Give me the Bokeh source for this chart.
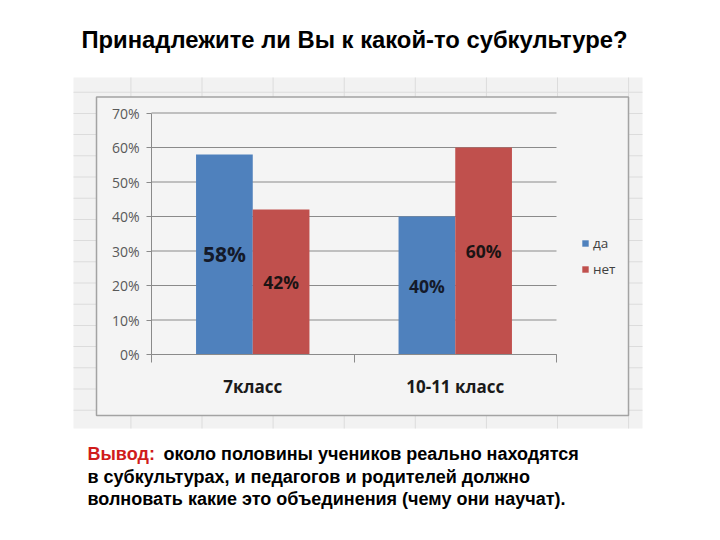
from bokeh.plotting import figure
from bokeh.models import (ColumnDataSource, Range1d, FixedTicker, PrintfTickFormatter,
                          LabelSet, Label, Legend, LegendItem, BoxAnnotation)
from bokeh.transform import dodge
from bokeh.core.properties import value, field
from bokeh.embed import file_html
from bokeh.resources import INLINE

# ---------------- data ----------------
title_text = "Принадлежите ли Вы к какой-то субкультуре?"
categories = ["7класс", "10-11 класс"]
series_names = ["да", "нет"]
da = [58, 40]
net = [42, 60]
y_ticks = [0, 10, 20, 30, 40, 50, 60, 70]
conclusion_head = "Вывод:"
conclusion_lines = [
    "около половины учеников реально находятся",
    "в субкультурах, и педагогов и родителей должно",
    "волновать какие это объединения (чему они научат).",
]

# ---------------- styles / layout ----------------
W, H = 720, 540
BLUE = "#4f81bd"
RED = "#c0504d"
AXIS = "#8a8a8a"
EXCEL_FONT = "Open Sans"
SLIDE_FONT = "Liberation Sans"
da_label_sizes = ["21px", "17.5px"]
net_label_sizes = ["17.5px", "17.5px"]
BAR_W = 0.28
PLOT_LEFT, PLOT_RIGHT = 151.0, 556.0     # canvas px of the plot area
PLOT_TOP, PLOT_BOTTOM = 112.5, 354.0
YMAX = 70

ncat = len(categories)
px_x = (PLOT_RIGHT - PLOT_LEFT) / ncat
px_y = (PLOT_BOTTOM - PLOT_TOP) / YMAX
x0 = -PLOT_LEFT / px_x
y0 = -(H - PLOT_BOTTOM) / px_y

pos = [i + 0.5 for i in range(ncat)]
src = ColumnDataSource(dict(
    x=pos,
    da=da, net=net,
    da_mid=[v / 2 for v in da], net_mid=[v / 2 for v in net],
    da_lbl=[f"{v}%" for v in da], net_lbl=[f"{v}%" for v in net],
    da_size=da_label_sizes, net_size=net_label_sizes,
))

p = figure(width=W, height=H, output_backend="svg", toolbar_location=None,
           x_range=Range1d(x0, x0 + W / px_x), y_range=Range1d(y0, y0 + H / px_y),
           min_border_left=0, min_border_right=0, min_border_top=0, min_border_bottom=0)
p.outline_line_color = None
p.background_fill_color = "white"
p.border_fill_color = "white"
p.grid.visible = False


def cbox(l, r, t, b, **kw):
    return BoxAnnotation(left=l, right=r, top=t, bottom=b,
                         left_units="canvas", right_units="canvas",
                         top_units="canvas", bottom_units="canvas",
                         level="image", **kw)


# ---- spreadsheet-like backdrop and chart box ----
decor = [cbox(73, 642, 77, 428, fill_color="#f2f2f2", fill_alpha=1, line_color=None)]
for k in range(16):
    yy = 91.7 + 21.2 * k
    decor.append(cbox(73, 642, yy - 0.5, yy + 0.5, fill_color="#dcdcdc", fill_alpha=1, line_color=None))
for k in range(8):
    xx = 130.4 + 71.1 * k
    decor.append(cbox(xx - 0.5, xx + 0.5, 77, 428, fill_color="#dcdcdc", fill_alpha=1, line_color=None))
decor.append(cbox(96, 628, 96.5, 415, fill_color="#f4f4f4", fill_alpha=1,
                  line_color="#a3a3a3", line_width=1.5, line_alpha=1))
for d in decor:
    p.add_layout(d)

# ---- horizontal gridlines ----
p.segment(x0=[0] * len(y_ticks), x1=[ncat] * len(y_ticks), y0=y_ticks, y1=y_ticks,
          line_color=AXIS, line_width=1)

# ---- bars ----
r_da = p.vbar(x=dodge("x", -BAR_W / 2), top="da", width=BAR_W,
              source=src, fill_color=BLUE, line_color=None)
r_net = p.vbar(x=dodge("x", BAR_W / 2), top="net", width=BAR_W,
               source=src, fill_color=RED, line_color=None)

# ---- data labels ----
p.add_layout(LabelSet(x=dodge("x", -BAR_W / 2), y="da_mid", text="da_lbl",
                      source=src, text_align="center", text_baseline="middle",
                      text_font=value(EXCEL_FONT), text_font_style="bold",
                      text_font_size=field("da_size"), text_color="#141a2a"))
p.add_layout(LabelSet(x=dodge("x", BAR_W / 2), y="net_mid", text="net_lbl",
                      source=src, text_align="center", text_baseline="middle",
                      text_font=value(EXCEL_FONT), text_font_style="bold",
                      text_font_size=field("net_size"), text_color="#1c1414"))

# ---- axes ----
ya = p.yaxis[0]
ya.fixed_location = 0
ya.bounds = (0, YMAX)
ya.ticker = FixedTicker(ticks=y_ticks)
ya.formatter = PrintfTickFormatter(format="%d%%")
ya.axis_line_color = AXIS
ya.major_tick_line_color = AXIS
ya.major_tick_out = 5
ya.major_tick_in = 0
ya.minor_tick_line_color = None
ya.major_label_text_font = EXCEL_FONT
ya.major_label_text_font_size = "14px"
ya.major_label_text_color = "#595959"
ya.major_label_standoff = 7

xa = p.xaxis[0]
xa.fixed_location = 0
xa.bounds = (0, ncat)
xa.ticker = FixedTicker(ticks=pos, minor_ticks=list(range(ncat + 1)))
xa.major_label_overrides = {pos[i]: categories[i] for i in range(ncat)}
xa.axis_line_color = AXIS
xa.major_tick_line_color = None
xa.major_tick_out = 0
xa.major_tick_in = 0
xa.minor_tick_line_color = AXIS
xa.minor_tick_out = 8
xa.minor_tick_in = 0
xa.major_label_text_font = EXCEL_FONT
xa.major_label_text_font_style = "bold"
xa.major_label_text_font_size = "17px"
xa.major_label_text_color = "#1a1a1a"
xa.major_label_standoff = 12

# ---- legend ----
legend = Legend(items=[LegendItem(label=series_names[0], renderers=[r_da]),
                       LegendItem(label=series_names[1], renderers=[r_net])],
                location=(581, 262), orientation="vertical",
                glyph_width=8, glyph_height=8, label_standoff=4,
                label_height=8, spacing=8, padding=0, margin=0,
                border_line_color=None, background_fill_alpha=0,
                label_text_font=EXCEL_FONT, label_text_font_size="13.5px",
                label_text_color="#404040")
p.add_layout(legend)

# ---- slide texts ----
p.add_layout(Label(x=354, y=39, x_units="canvas", y_units="canvas", text=title_text,
                   text_align="center", text_baseline="middle",
                   text_font=SLIDE_FONT, text_font_style="bold",
                   text_font_size="23.8px", text_color="black"))
p.add_layout(Label(x=87, y=453, x_units="canvas", y_units="canvas", text=conclusion_head,
                   text_align="left", text_baseline="alphabetic",
                   text_font=SLIDE_FONT, text_font_style="bold",
                   text_font_size="18px", text_color="#d01c1c"))
line_x = [163, 87, 87]
line_y = [453, 476, 498]
for i, t in enumerate(conclusion_lines):
    p.add_layout(Label(x=line_x[i], y=line_y[i], x_units="canvas", y_units="canvas", text=t,
                       text_align="left", text_baseline="alphabetic",
                       text_font=SLIDE_FONT, text_font_style="bold",
                       text_font_size="18px", text_color="black"))

open("out.html", "w").write(file_html(p, INLINE))
